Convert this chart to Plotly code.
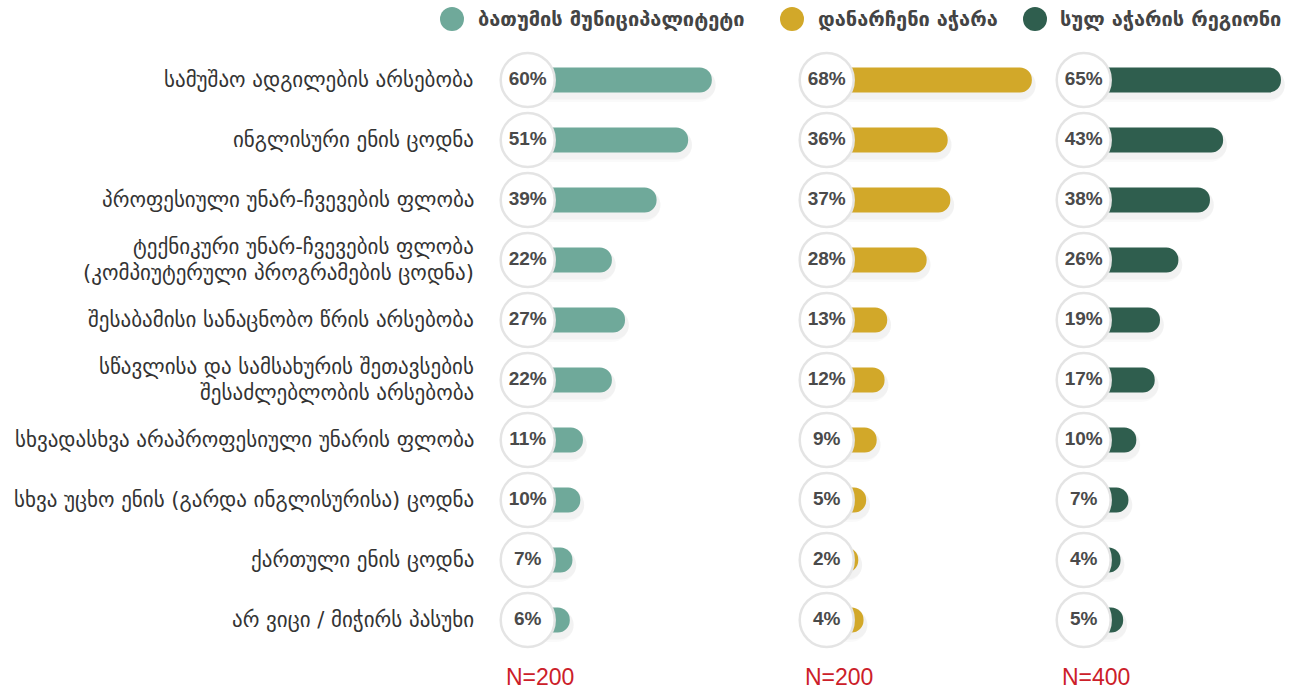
import plotly.graph_objects as go

W, H = 1295, 690

categories = [
    "სამუშაო ადგილების არსებობა",
    "ინგლისური ენის ცოდნა",
    "პროფესიული უნარ-ჩვევების ფლობა",
    "ტექნიკური უნარ-ჩვევების ფლობა\n(კომპიუტერული პროგრამების ცოდნა)",
    "შესაბამისი სანაცნობო წრის არსებობა",
    "სწავლისა და სამსახურის შეთავსების\nშესაძლებლობის არსებობა",
    "სხვადასხვა არაპროფესიული უნარის ფლობა",
    "სხვა უცხო ენის (გარდა ინგლისურისა) ცოდნა",
    "ქართული ენის ცოდნა",
    "არ ვიცი / მიჭირს პასუხი",
]

series_names = ["ბათუმის მუნიციპალიტეტი", "დანარჩენი აჭარა", "სულ აჭარის რეგიონი"]
batumi = [60, 51, 39, 22, 27, 22, 11, 10, 7, 6]
rest_adjara = [68, 36, 37, 28, 13, 12, 9, 5, 2, 4]
total_adjara = [65, 43, 38, 26, 19, 17, 10, 7, 4, 5]
sample_sizes = ["N=200", "N=200", "N=400"]

colors = ["#6fa99a", "#d2a829", "#2f5e4e"]
series = [batumi, rest_adjara, total_adjara]


def fx(p):
    return p / W


def fy(p):
    return (H - p) / H


# pixel layout
px_per_unit = 2.63
zero_px = [554, 853, 1110]
x_lo, x_hi = -15, 70
circle_x = -10
row_top, row_bot = 50, 650

ypos = list(range(len(categories)))

fig = go.Figure()

for k, vals in enumerate(series):
    ax = "x" if k == 0 else "x%d" % (k + 1)
    # soft shadow under the bars
    for wpx, alpha in [(34, 0.02), (29, 0.03)]:
        fig.add_trace(go.Bar(
            y=ypos, x=[v - circle_x + 1.5 for v in vals], base=circle_x,
            orientation="h", xaxis=ax, yaxis="y",
            marker=dict(color="rgba(0,0,0,%s)" % alpha, cornerradius="50%", line=dict(width=0)),
            width=wpx / 60, offset=-wpx / 120 + 5 / 60,
            hoverinfo="skip", showlegend=False,
        ))
    # bar starts under the circle so the rounded left end is hidden
    fig.add_trace(go.Bar(
        y=ypos, x=[v - circle_x for v in vals], base=circle_x,
        orientation="h", xaxis=ax, yaxis="y",
        marker=dict(color=colors[k], cornerradius="50%", line=dict(width=0)),
        width=25 / 60, hoverinfo="skip", showlegend=False,
    ))
    fig.add_trace(go.Scatter(
        y=ypos, x=[circle_x] * len(vals), xaxis=ax, yaxis="y",
        mode="markers+text",
        marker=dict(size=54, color="white", line=dict(color="#e4e4e4", width=2.5)),
        text=["%d%%" % v for v in vals], textposition="middle center",
        textfont=dict(family="Liberation Sans, Arial", size=19, color="#4a4a4a", weight="bold"),
        hoverinfo="skip", showlegend=False, cliponaxis=False,
    ))
    d0 = fx(zero_px[k] + x_lo * px_per_unit)
    d1 = min(fx(zero_px[k] + x_hi * px_per_unit), 1.0)
    axis = dict(domain=[d0, d1], range=[x_lo, x_lo + (d1 - d0) * W / px_per_unit],
                visible=False, fixedrange=True)
    if k > 0:
        axis["anchor"] = "y"
    fig.update_layout(**{("xaxis" if k == 0 else "xaxis%d" % (k + 1)): axis})

    # N labels
    fig.add_annotation(x=fx(zero_px[k] - 14), y=fy(677), xref="paper", yref="paper",
                       text=sample_sizes[k], showarrow=False, xanchor="center", yanchor="middle",
                       font=dict(family="Liberation Sans, Arial", size=23, color="#cc2029"))

# category labels
for i, cat in enumerate(categories):
    lines = cat.split("\n")
    n = len(lines)
    for j, line in enumerate(lines):
        fig.add_annotation(x=fx(476), y=ypos[i], xref="paper", yref="y", text=line,
                           showarrow=False, xanchor="right", yanchor="middle",
                           yshift=(-(j - (n - 1) / 2)) * 26,
                           font=dict(family="DejaVu Sans", size=21, color="#333333"))

# legend
legend_pos = [(452, 476), (792, 816), (1035, 1058)]
for k, name in enumerate(series_names):
    cx, tx = legend_pos[k]
    fig.add_shape(type="circle", xref="paper", yref="paper", xsizemode="pixel", ysizemode="pixel",
                  xanchor=fx(cx), yanchor=fy(19), x0=-12, x1=12, y0=-12, y1=12,
                  fillcolor=colors[k], line=dict(width=0))
    fig.add_annotation(x=fx(tx), y=fy(19), xref="paper", yref="paper", text=name,
                       showarrow=False, xanchor="left", yanchor="middle",
                       font=dict(family="DejaVu Sans", size=20, color="#444444", weight="bold"))

fig.update_layout(
    width=W, height=H,
    margin=dict(l=0, r=0, t=0, b=0),
    paper_bgcolor="white", plot_bgcolor="white",
    yaxis=dict(domain=[fy(row_bot), fy(row_top)], range=[len(categories) - 0.5, -0.5],
               visible=False, fixedrange=True),
    barmode="overlay",
    showlegend=False,
)

# drop the default body margin so the figure fills the window exactly
fig.write_html("out.html", config={"displayModeBar": False},
               post_script="document.body.style.margin='0';document.body.style.overflow='hidden';")
